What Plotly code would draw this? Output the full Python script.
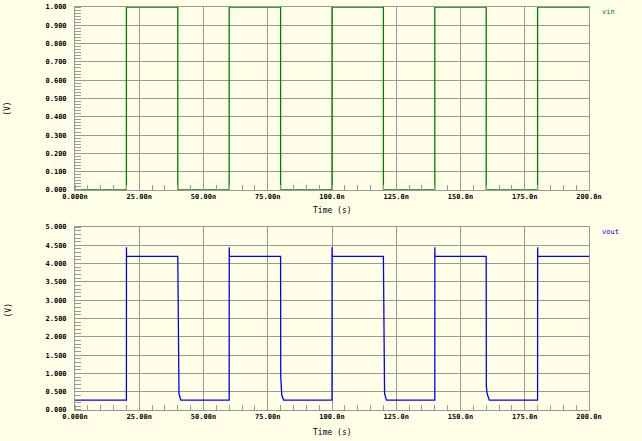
import plotly.graph_objects as go

# ---- data (time in ns) ----
vin_t = [0, 20, 20, 40, 40, 60, 60, 80, 80, 100, 100, 120, 120, 140, 140, 160, 160, 180, 180, 200]
vin_v = [0, 0, 1, 1, 0, 0, 1, 1, 0, 0, 1, 1, 0, 0, 1, 1, 0, 0, 1, 1]

vout_t = [0, 20, 20.02, 20.06,
          40, 40.05, 40.35, 40.45, 41.2,
          60, 60.02, 60.06,
          80, 80.05, 80.35, 80.45, 81.2,
          100, 100.02, 100.06,
          120, 120.05, 120.35, 120.45, 121.2,
          140, 140.02, 140.06,
          160, 160.05, 160.35, 161.2,
          180, 180.02, 180.06, 200]
vout_v = [0.27, 0.27, 4.45, 4.2,
          4.2, 3.6, 3.0, 0.45, 0.27,
          0.27, 4.45, 4.2,
          4.2, 0.9, 0.55, 0.4, 0.27,
          0.27, 4.45, 4.2,
          4.2, 3.5, 2.3, 0.45, 0.27,
          0.27, 4.45, 4.2,
          4.2, 0.65, 0.45, 0.27,
          0.27, 4.45, 4.2, 4.2]

x_ticks = [0, 25, 50, 75, 100, 125, 150, 175, 200]
x_labels = ["0.000n", "25.00n", "50.00n", "75.00n", "100.0n", "125.0n", "150.0n", "175.0n", "200.0n"]
y1_ticks = [0.0, 0.1, 0.2, 0.3, 0.4, 0.5, 0.6, 0.7, 0.8, 0.9, 1.0]
y1_labels = ["0.000", "0.100", "0.200", "0.300", "0.400", "0.500", "0.600", "0.700", "0.800", "0.900", "1.000"]
y2_ticks = [0.0, 0.5, 1.0, 1.5, 2.0, 2.5, 3.0, 3.5, 4.0, 4.5, 5.0]
y2_labels = ["0.000", "0.500", "1.000", "1.500", "2.000", "2.500", "3.000", "3.500", "4.000", "4.500", "5.000"]

BG = "#FFFFE8"
GRID = "#999999"
FONT = dict(family="DejaVu Sans Mono", size=7, color="black", weight="bold")

fig = go.Figure()
fig.add_trace(go.Scatter(x=vin_t, y=vin_v, mode="lines", line=dict(color="#008000", width=1.3),
                         xaxis="x", yaxis="y", showlegend=False))
fig.add_trace(go.Scatter(x=vout_t, y=vout_v, mode="lines", line=dict(color="#0000FF", width=1.3),
                         xaxis="x2", yaxis="y2", showlegend=False))

def xax(anchor):
    return dict(range=[0, 200], tickvals=x_ticks, ticktext=x_labels, anchor=anchor,
                showgrid=True, gridcolor=GRID, gridwidth=1, zeroline=False,
                showline=True, linecolor=GRID, linewidth=1, mirror=True, automargin=False,
                ticks="", tickfont=FONT,
                minor=dict(dtick=5, ticks="inside", ticklen=5, tickcolor=GRID, showgrid=False))

def yax(anchor, rng, tv, tt, dom, mdt):
    return dict(range=rng, tickvals=tv, ticktext=tt, anchor=anchor, domain=dom,
                showgrid=True, gridcolor=GRID, gridwidth=1, zeroline=False,
                showline=True, linecolor=GRID, linewidth=1, mirror=True, automargin=False,
                ticks="", tickfont=FONT, ticklabelstandoff=6,
                minor=dict(dtick=mdt, ticks="inside", ticklen=6, tickcolor=GRID, showgrid=False))

TFONT = dict(family="DejaVu Sans Mono", size=8, color="black")

# plot area: x 75..589 px, y 7..410 px in a 642x441 page
fig.update_layout(
    width=642, height=441,
    margin=dict(l=75, r=53, t=7, b=31, autoexpand=False),
    paper_bgcolor=BG, plot_bgcolor=BG,
    xaxis=xax("y"),
    yaxis=yax("x", [0, 1], y1_ticks, y1_labels, [0.546, 1.0], 0.1 / 6),
    xaxis2=xax("y2"),
    yaxis2=yax("x2", [0, 5], y2_ticks, y2_labels, [0.0, 0.454], 0.1),
    annotations=[
        dict(text="Time (s)", xref="paper", yref="paper", x=0.5, y=0.4938, showarrow=False,
             font=TFONT, yanchor="middle"),
        dict(text="Time (s)", xref="paper", yref="paper", x=0.5, y=-0.0546, showarrow=False,
             font=TFONT, yanchor="middle"),
        dict(text="(V)", xref="paper", yref="paper", x=-0.13, xanchor="center", y=0.77, showarrow=False,
             textangle=-90, font=TFONT),
        dict(text="(V)", xref="paper", yref="paper", x=-0.13, xanchor="center", y=0.225, showarrow=False,
             textangle=-90, font=TFONT),
        dict(text="vin", xref="paper", yref="paper", x=1.021, xanchor="left", y=0.988, yanchor="middle",
             showarrow=False, font=dict(family="DejaVu Sans Mono", size=7, color="#008000")),
        dict(text="vout", xref="paper", yref="paper", x=1.021, xanchor="left", y=0.442, yanchor="middle",
             showarrow=False, font=dict(family="DejaVu Sans Mono", size=7, color="#0000FF")),
    ],
)

fig.write_html("out.html", config={"displayModeBar": False},
               post_script="document.body.style.margin='0px';document.body.style.overflow='hidden';")
